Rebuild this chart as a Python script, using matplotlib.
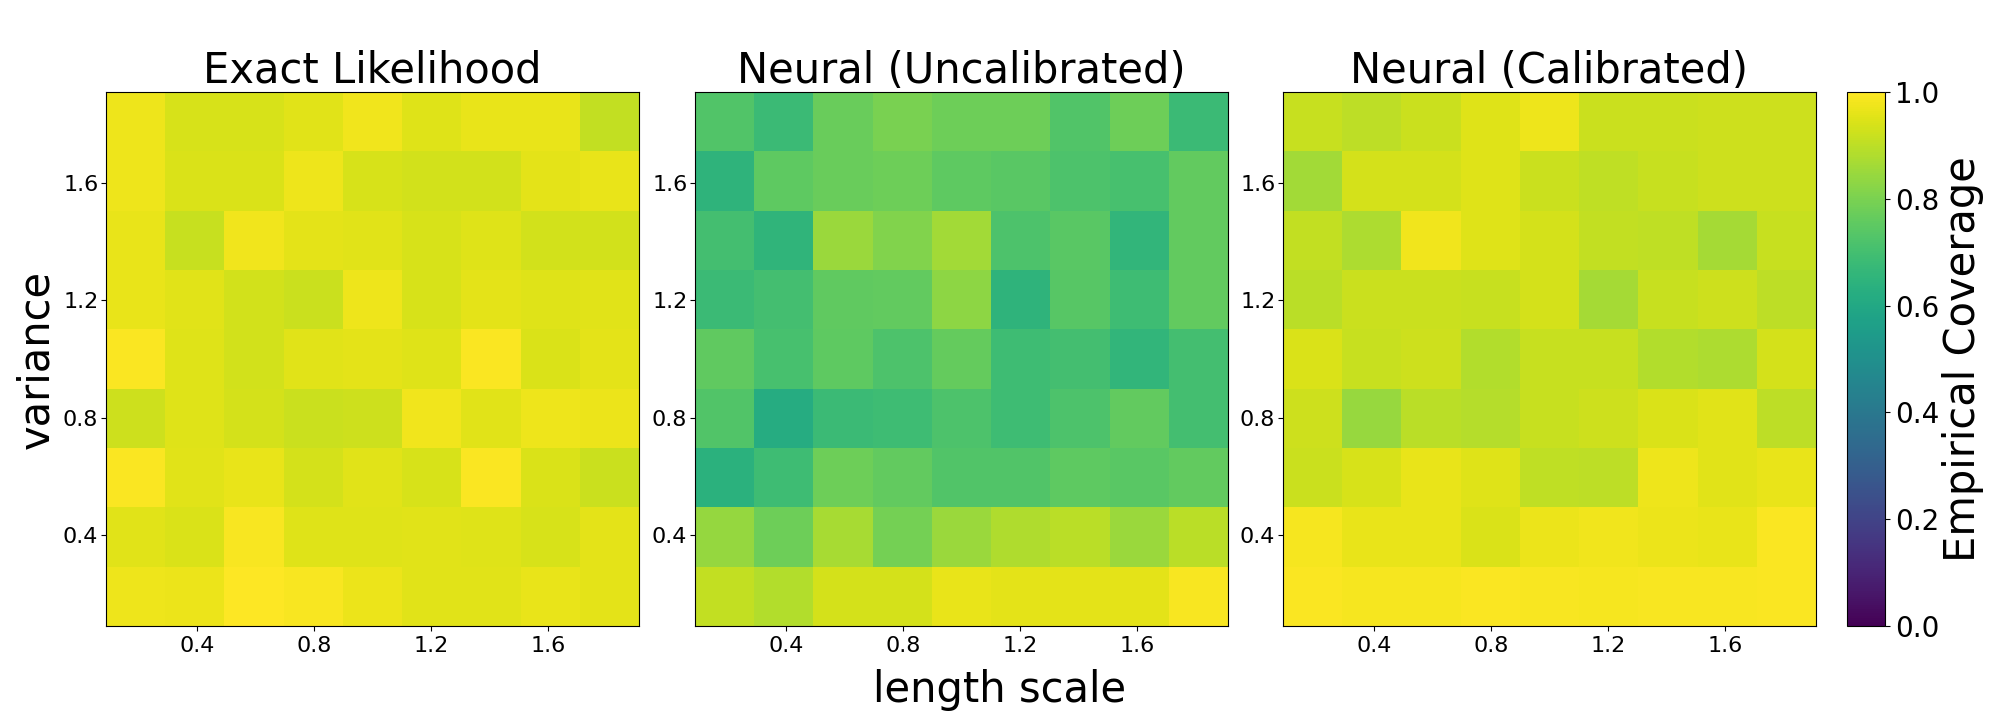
import matplotlib
matplotlib.use("Agg")
import matplotlib.pyplot as plt

exact = [
    [.975, .94, .94, .955, .98, .95, .965, .965, .91],
    [.975, .945, .945, .975, .94, .93, .93, .96, .965],
    [.965, .915, .98, .96, .955, .94, .95, .93, .93],
    [.965, .955, .93, .92, .975, .94, .96, .95, .955],
    [.995, .95, .93, .955, .96, .95, .995, .945, .96],
    [.925, .95, .935, .92, .925, .98, .955, .975, .97],
    [.995, .955, .965, .935, .955, .94, .995, .945, .92],
    [.955, .945, .99, .95, .95, .955, .95, .94, .96],
    [.975, .97, 1.0, .99, .97, .955, .955, .965, .96],
]
uncalibrated = [
    [.73, .68, .77, .80, .78, .78, .73, .78, .68],
    [.65, .75, .77, .78, .75, .745, .72, .71, .76],
    [.70, .655, .85, .81, .86, .72, .745, .66, .76],
    [.68, .70, .755, .76, .83, .65, .74, .69, .76],
    [.755, .71, .75, .72, .765, .69, .70, .66, .70],
    [.73, .62, .68, .69, .72, .69, .72, .76, .70],
    [.64, .69, .78, .76, .73, .73, .75, .745, .76],
    [.84, .78, .87, .79, .85, .88, .895, .85, .895],
    [.91, .885, .935, .935, .965, .96, .96, .96, .99],
]
calibrated = [
    [.915, .90, .92, .95, .975, .92, .92, .925, .925],
    [.86, .935, .935, .95, .92, .905, .915, .925, .925],
    [.91, .875, .98, .95, .935, .91, .905, .865, .915],
    [.895, .92, .92, .915, .935, .865, .915, .925, .90],
    [.945, .915, .925, .885, .915, .915, .885, .875, .935],
    [.925, .845, .895, .89, .915, .925, .945, .955, .90],
    [.92, .94, .965, .95, .905, .90, .975, .955, .965],
    [.985, .965, .965, .945, .97, .98, .97, .965, .995],
    [.995, .985, .985, .995, .99, .985, .99, .99, .995],
]
titles = ["Exact Likelihood", "Neural (Uncalibrated)", "Neural (Calibrated)"]
tick_vals = [0.4, 0.8, 1.2, 1.6]

W, H = 2000, 720
fig = plt.figure(figsize=(W / 100, H / 100), dpi=100)


def px_axes(left, right, top, bottom):
    return fig.add_axes([left / W, 1 - bottom / H, (right - left) / W, (bottom - top) / H])


boxes = [(106, 639), (695, 1228), (1283, 1816)]
for (l, r), title, vals in zip(boxes, titles, [exact, uncalibrated, calibrated]):
    ax = px_axes(l, r, 92, 626)
    # rows are listed top first, so the default upper origin is right
    im = ax.imshow(vals, cmap="viridis", vmin=0, vmax=1, aspect="auto",
                   extent=(0.09, 1.91, 0.09, 1.91), interpolation="nearest")
    ax.set_xticks(tick_vals)
    ax.set_yticks(tick_vals)
    ax.tick_params(labelsize=16)
    ax.tick_params(axis="y", pad=2)
    ax.set_title(title, fontsize=30, pad=5)

fig.axes[0].set_ylabel("variance", fontsize=30)
fig.supxlabel("length scale", fontsize=30, y=0.012)

cax = px_axes(1847, 1885, 92, 626)
cb = fig.colorbar(im, cax=cax)
cb.set_ticks([0, 0.2, 0.4, 0.6, 0.8, 1.0])
cb.ax.tick_params(labelsize=20)
cb.set_label("Empirical Coverage", fontsize=30, labelpad=2)

fig.savefig("out.png", dpi=100)
